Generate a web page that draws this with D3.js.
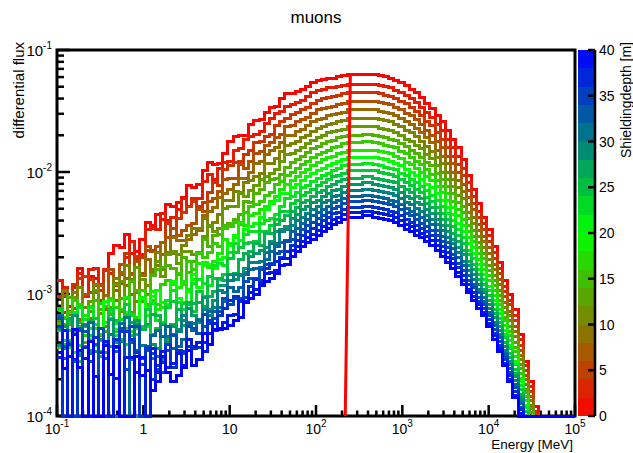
<!DOCTYPE html>
<html>
<head>
<meta charset="utf-8">
<title>muons</title>
<script src="https://cdn.jsdelivr.net/npm/d3@7"></script>
<style>
  body { margin: 0; background: #fff; }
  svg { display: block; }
  text { font-family: "Liberation Sans", Arial, sans-serif; fill: #000; }
</style>
</head>
<body>
<svg id="chart" width="633" height="453"></svg>
<script>
// histogram binning: log10(E / MeV) from -1 to 5
const binLow = -1, binHigh = 5, nBins = 100;

// shielding depth of each curve [m]
const depths = [0, 2, 4, 6, 8, 10, 12, 14, 16, 18, 20, 22, 24, 26, 28, 30, 32, 34, 36, 38, 40];

// differential flux per bin as 100*log10(flux), null = empty bin
const flux00 = [-313,-302,-310,-294,-279,-301,-286,-287,-292,-281,-267,-260,-262,-251,-267,-265,-255,-241,-244,-235,-239,-227,-228,-225,-221,-211,-213,-210,-199,-192,-194,-193,-185,-175,-171,-170,-170,-161,-158,-157,-151,-147,-146,-140,-136,
  -136,-134,-132,-130,-127,-125,-124,-123,-123,-122,-121,-120,-120,-120,-120,-120,-120,-121,-122,-123,-125,-127,-129,-132,-135,-139,-144,-148,-154,-159,-166,-173,-180,-190,-203,-214,-226,-237,-247,-261,-274,-289,-300,-313,-333,-355,-372,-392];
const flux02 = [-289,-295,-314,-295,-283,-302,-280,-279,-297,-280,-283,-293,-291,-270,-257,-272,-268,-247,-246,-247,-234,-240,-237,-231,-222,-228,-222,-222,-208,-202,-206,-197,-192,-191,-182,-181,-173,-171,-169,-167,-160,-156,-152,-150,-146,
  -145,-143,-141,-138,-135,-133,-132,-131,-131,-130,-129,-128,-128,-128,-128,-128,-128,-129,-130,-131,-133,-135,-137,-140,-143,-147,-151,-155,-161,-166,-173,-180,-187,-197,-209,-220,-232,-242,-252,-266,-279,-294,-305,-318,-337,-359,-376,-396];
const flux04 = [-302,-315,-320,-292,-287,-286,-288,-293,-305,-281,-305,-291,-284,-267,-283,-269,-270,-264,-264,-261,-258,-242,-253,-238,-233,-228,-224,-228,-225,-217,-209,-211,-198,-195,-192,-191,-186,-182,-176,-175,-171,-169,-162,-159,-156,
  -153,-151,-149,-147,-144,-141,-140,-139,-138,-137,-136,-135,-135,-135,-135,-135,-135,-136,-137,-138,-140,-142,-144,-147,-150,-154,-159,-162,-168,-173,-180,-187,-194,-203,-215,-226,-237,-247,-257,-271,-283,-298,-309,-322,-342,-363,-380,-399];
const flux06 = [-319,-298,-317,-312,-321,-300,-299,-305,-293,-313,-280,-297,-276,-287,-284,-273,-283,-261,-265,-261,-268,-254,-246,-252,-248,-244,-242,-231,-232,-224,-222,-216,-206,-205,-205,-194,-197,-191,-185,-183,-178,-176,-172,-169,-163,
  -162,-159,-157,-155,-152,-149,-148,-147,-146,-145,-144,-142,-142,-142,-142,-142,-142,-143,-144,-145,-147,-149,-152,-154,-157,-161,-166,-170,-175,-180,-187,-193,-200,-210,-221,-231,-243,-253,-262,-276,-288,-302,-314,-327,-346,-367,-384];
const flux08 = [-322,-301,-314,-299,-322,-321,-320,-299,-308,-301,-315,-305,-282,-293,-300,-299,-285,-272,-282,-277,-258,-266,-254,-256,-256,-255,-251,-248,-236,-232,-229,-221,-218,-214,-210,-205,-205,-200,-193,-191,-186,-182,-180,-176,-170,
  -170,-167,-165,-162,-159,-157,-156,-154,-153,-152,-151,-149,-149,-149,-149,-149,-149,-150,-151,-152,-154,-156,-159,-161,-164,-168,-172,-176,-182,-187,-193,-200,-207,-216,-227,-237,-248,-257,-267,-280,-292,-307,-318,-331,-350,-370,-387];
const flux10 = [-327,-297,-317,-299,-295,-311,-314,-292,-316,-327,-311,-287,-314,-277,-288,-306,-288,-293,-280,-266,-280,-267,-267,-268,-260,-252,-246,-246,-238,-245,-241,-235,-223,-223,-216,-217,-209,-207,-204,-201,-193,-193,-189,-183,-178,
  -177,-175,-172,-170,-167,-164,-163,-161,-160,-159,-158,-156,-156,-156,-156,-156,-156,-157,-158,-159,-161,-163,-166,-168,-171,-175,-179,-183,-188,-193,-200,-206,-213,-222,-233,-242,-253,-262,-272,-285,-297,-311,-322,-335,-354,-374,-391];
const flux12 = [-321,-325,-325,-303,-323,-327,-306,-297,-313,-331,-320,-292,-290,-304,-315,-278,-288,-300,-284,-273,-286,-268,-265,-275,-265,-265,-268,-266,-253,-244,-249,-246,-230,-228,-228,-218,-220,-215,-211,-206,-204,-201,-198,-191,-186,
  -185,-182,-180,-177,-174,-172,-170,-168,-167,-166,-165,-163,-163,-163,-163,-163,-163,-164,-165,-166,-168,-170,-173,-175,-178,-181,-186,-189,-195,-200,-206,-212,-219,-228,-238,-248,-258,-267,-277,-289,-301,-315,-327,-340,-358,-378,-394];
const flux14 = [-324,-320,-303,-331,-327,-340,-310,-305,-334,-310,-317,-331,-304,-318,-290,-297,-306,-309,-285,-280,-278,-277,-279,-284,-270,-282,-273,-267,-255,-261,-252,-251,-244,-242,-239,-235,-224,-225,-218,-214,-209,-206,-205,-202,-196,
  -192,-190,-187,-184,-181,-179,-177,-175,-174,-172,-171,-170,-170,-170,-169,-169,-170,-171,-172,-173,-174,-177,-179,-182,-185,-188,-192,-195,-201,-206,-212,-218,-225,-233,-244,-253,-262,-271,-281,-293,-305,-319,-331,-344,-361,-381,-397];
const flux16 = [-344,-319,-315,-305,-309,-334,-339,-325,-308,-340,-304,-311,-313,-328,-317,-319,-297,-310,-305,-309,-292,-289,-292,-283,-292,-273,-280,-267,-270,-266,-259,-261,-246,-245,-241,-243,-233,-228,-227,-224,-219,-217,-210,-208,-203,
  -200,-197,-194,-191,-188,-186,-184,-182,-180,-179,-177,-176,-176,-176,-175,-175,-176,-177,-178,-179,-180,-183,-185,-188,-191,-194,-198,-202,-207,-212,-218,-224,-231,-239,-249,-257,-267,-276,-285,-297,-309,-322,-334,-347,-365,-384,-401];
const flux18 = [-313,-338,-338,-333,-342,-318,-337,-325,-333,-323,-305,-324,null,-303,-331,-324,-303,-311,-298,-313,-311,-309,-292,-295,-290,-296,-288,-275,-277,-278,-273,-267,-255,-259,-254,-241,-244,-236,-234,-231,-228,-224,-220,-214,-210,
  -207,-204,-200,-198,-195,-192,-190,-188,-187,-185,-184,-182,-182,-182,-182,-182,-182,-183,-184,-185,-187,-189,-192,-194,-197,-200,-204,-207,-212,-217,-223,-229,-236,-244,-254,-262,-272,-280,-289,-301,-313,-326,-338,-351,-369,-387];
const flux20 = [-312,-327,-344,-348,-349,null,-328,-328,-328,-306,-320,-329,-328,-315,-334,-333,-304,-318,-302,-297,-307,-309,-290,-304,-307,-298,-284,-295,-274,-276,-279,-272,-270,-260,-252,-256,-247,-245,-242,-237,-231,-226,-223,-218,-218,
  -213,-210,-207,-204,-201,-199,-197,-195,-193,-191,-190,-188,-188,-188,-188,-188,-188,-189,-190,-191,-193,-195,-198,-200,-203,-206,-210,-213,-218,-223,-229,-235,-242,-249,-259,-267,-276,-284,-294,-305,-316,-330,-342,-355,-372,-391];
const flux22 = [-330,-341,-330,-315,-311,-321,-311,-342,-347,-341,-314,-334,-321,-341,-318,-328,-328,-327,-308,-322,-323,-305,-297,-307,-313,-307,-291,-288,-291,-293,-277,-275,-277,-266,-259,-262,-251,-249,-249,-242,-240,-238,-235,-228,-222,
  -220,-217,-213,-211,-208,-205,-203,-201,-199,-197,-195,-194,-194,-194,-193,-193,-194,-195,-196,-197,-198,-201,-203,-206,-209,-212,-215,-219,-223,-228,-234,-240,-247,-254,-264,-271,-280,-288,-297,-309,-320,-333,-345,-358,-375,-393];
const flux24 = [-312,-343,-323,-333,-355,null,-334,-320,-351,null,-313,-322,-337,-309,-334,-333,-327,-313,-333,-328,-335,-311,-306,-321,-308,-309,-314,-298,-302,-286,-287,-288,-284,-271,-266,-262,-259,-258,-257,-249,-249,-244,-239,-232,-232,
  -226,-223,-219,-217,-214,-211,-209,-206,-204,-203,-201,-199,-199,-199,-199,-199,-199,-200,-201,-202,-204,-206,-209,-211,-214,-217,-221,-224,-229,-234,-239,-245,-252,-259,-268,-276,-284,-292,-301,-313,-323,-336,-349,-362,-378,-396];
const flux26 = [-329,null,-321,null,-348,-343,-322,null,-338,-348,-343,null,null,null,-323,null,-329,-325,-317,-318,-335,-337,-325,-313,-326,-307,-308,-307,-310,-302,-298,-287,-289,-284,-283,-272,-267,-265,-259,-260,-250,-250,-243,-240,-236,
  -232,-229,-225,-223,-220,-217,-215,-212,-210,-208,-206,-205,-205,-205,-204,-204,-205,-206,-207,-208,-209,-212,-214,-217,-220,-222,-226,-229,-234,-239,-244,-250,-257,-264,-273,-280,-288,-296,-305,-316,-327,-340,-352,-365,-382,-400];
const flux28 = [-342,-327,null,-318,-350,-325,-346,-347,-337,null,-321,-340,-339,null,-337,-322,null,null,-341,-345,-325,-340,-327,-329,-322,-312,-318,-323,-303,-313,-305,-293,-293,-284,-288,-284,-279,-269,-267,-264,-262,-257,-249,-247,-245,
  -238,-235,-231,-228,-225,-223,-220,-218,-215,-214,-212,-210,-210,-210,-209,-209,-210,-211,-212,-213,-214,-217,-220,-222,-225,-227,-231,-234,-239,-244,-249,-255,-262,-268,-277,-284,-292,-299,-309,-319,-330,-343,-355,-368,-385,-402];
const flux30 = [-328,-345,-340,null,null,-326,-349,null,null,null,-333,null,null,-319,-354,-325,-342,null,-353,-351,-354,-335,-333,-331,-318,-323,-324,-321,-313,-318,-311,-297,-299,-289,-284,-285,-282,-274,-274,-273,-266,-259,-259,-249,-247,
  -244,-240,-237,-234,-231,-228,-225,-223,-220,-219,-217,-215,-215,-215,-214,-214,-215,-216,-217,-218,-219,-222,-225,-227,-230,-232,-236,-239,-243,-248,-254,-259,-266,-273,-281,-288,-296,-303,-312,-323,-333,-346,-358,-371,-387,-404];
const flux32 = [-318,-353,null,-355,-328,null,-323,-341,null,-353,null,-347,-324,null,-340,-346,-353,-346,-334,-330,-335,-327,-345,-343,-337,-324,-330,-322,-327,-314,-314,-311,-306,-295,-298,-295,-284,-280,-279,-278,-272,-265,-261,-258,-256,
  -249,-246,-242,-239,-236,-233,-231,-228,-225,-223,-222,-220,-220,-220,-219,-219,-220,-221,-222,-223,-224,-227,-230,-232,-235,-237,-240,-243,-248,-253,-258,-263,-270,-277,-285,-292,-299,-306,-315,-326,-336,-349,-361,-374,-390];
const flux34 = [-320,-343,null,null,-330,-331,-355,null,-328,-339,null,-344,-328,-362,-327,-327,-358,-343,-349,-362,-364,-346,-334,-349,-349,-327,-328,-332,-317,-324,-320,-314,-304,-309,-304,-304,-290,-287,-287,-280,-276,-275,-267,-265,-257,
  -255,-251,-247,-244,-241,-238,-236,-233,-230,-228,-226,-224,-224,-224,-223,-223,-224,-225,-226,-227,-228,-231,-234,-236,-239,-242,-245,-248,-252,-257,-262,-268,-275,-281,-289,-295,-303,-309,-318,-329,-339,-351,-364,-377,-393];
const flux36 = [-327,null,-341,-354,null,-344,null,-336,-348,null,null,-337,-331,-331,-337,-348,null,-345,-370,-359,-356,-341,-360,-346,-347,-343,-345,-344,-340,-322,-330,-318,-312,-305,-302,-306,-303,-294,-288,-289,-279,-276,-273,-270,-265,
  -260,-256,-252,-249,-246,-243,-240,-237,-234,-233,-231,-229,-229,-229,-228,-228,-229,-230,-231,-232,-233,-236,-239,-241,-244,-246,-249,-252,-256,-261,-266,-271,-278,-285,-292,-299,-306,-312,-321,-332,-342,-354,-367,-380,-395];
const flux38 = [-352,-330,null,-333,-346,-353,null,-368,null,-339,null,-369,null,-352,-352,-364,-352,null,-345,-364,-347,-360,-357,-349,-359,-337,-343,-340,-347,-332,-324,-328,-323,-318,-317,-305,-306,-299,-296,-291,-283,-282,-281,-271,-271,
  -264,-261,-257,-254,-251,-248,-245,-242,-239,-237,-235,-233,-233,-233,-232,-232,-233,-234,-235,-236,-237,-240,-243,-245,-248,-250,-253,-256,-260,-265,-270,-275,-282,-289,-296,-302,-309,-315,-324,-334,-345,-357,-370,-383,-398];
const flux40 = [-348,-361,-351,-329,-360,null,-339,null,null,-342,-366,-343,null,null,null,-351,-367,-363,-379,-372,-351,-364,-372,-367,-360,-346,-359,-354,-332,-341,-329,-329,-328,-326,-322,-319,-307,-304,-300,-293,-290,-287,-283,-277,-276,
  -269,-265,-261,-258,-255,-252,-249,-246,-243,-241,-239,-237,-237,-237,-236,-236,-237,-238,-239,-240,-241,-244,-247,-249,-252,-254,-257,-260,-264,-269,-274,-279,-286,-292,-299,-305,-312,-318,-327,-337,-347,-359,-372,-385,-400];

const fluxes = [flux00, flux02, flux04, flux06, flux08, flux10, flux12, flux14, flux16, flux18,
                flux20, flux22, flux24, flux26, flux28, flux30, flux32, flux34, flux36, flux38, flux40];

// red marker line (energy [MeV], flux) at both ends
const markerEnergy = [218, 250];
const markerFlux = [1e-4, 0.063];

// axis ticks and labels: [mantissa, exponent]
const xTickValues = [1e-1, 1, 10, 1e2, 1e3, 1e4, 1e5];
const xTickLabels = [["10", "-1"], ["1", ""], ["10", ""], ["10", "2"], ["10", "3"], ["10", "4"], ["10", "5"]];
const yTickValues = [1e-4, 1e-3, 1e-2, 1e-1];
const yTickLabels = [["10", "-4"], ["10", "-3"], ["10", "-2"], ["10", "-1"]];
const zTickValues = [0, 5, 10, 15, 20, 25, 30, 35, 40];

const svg = d3.select("#chart");
const frame = { left: 57, right: 575, top: 50, bottom: 416 };

const x = d3.scaleLog().domain([1e-1, 1e5]).range([frame.left, frame.right]);
const y = d3.scaleLog().domain([1e-4, 1e-1]).range([frame.bottom, frame.top]).clamp(true);
const z = d3.scaleLinear().domain([0, 40]).range([frame.bottom, frame.top]);
const depthColor = d3.scaleLinear().domain([0, 20, 40]).range(["#ff0000", "#00ff00", "#0000ff"]);

// title
svg.append("text")
   .attr("x", 316).attr("y", 23)
   .attr("text-anchor", "middle")
   .style("font-size", "17px")
   .text("muons");

// frame box
svg.append("rect")
   .attr("x", frame.left).attr("y", frame.top)
   .attr("width", frame.right - frame.left).attr("height", frame.bottom - frame.top)
   .attr("fill", "none").attr("stroke", "#000").attr("stroke-width", 3);

// ticks, drawn below the histograms like ROOT does
const ticks = svg.append("g").attr("stroke", "#000").attr("stroke-width", 2.5);
const xMinor = xTickValues.slice(0, -1).flatMap(v => d3.range(2, 10).map(m => m * v));
const yMinor = yTickValues.slice(0, -1).flatMap(v => d3.range(2, 10).map(m => m * v));

ticks.selectAll(".xmaj").data(xTickValues).enter().append("line")
   .attr("x1", d => x(d)).attr("x2", d => x(d))
   .attr("y1", frame.bottom).attr("y2", frame.bottom - 11);
ticks.selectAll(".xmin").data(xMinor).enter().append("line")
   .attr("x1", d => x(d)).attr("x2", d => x(d))
   .attr("y1", frame.bottom).attr("y2", frame.bottom - 5.5);
ticks.selectAll(".ymaj").data(yTickValues).enter().append("line")
   .attr("x1", frame.left).attr("x2", frame.left + 13)
   .attr("y1", d => y(d)).attr("y2", d => y(d));
ticks.selectAll(".ymin").data(yMinor).enter().append("line")
   .attr("x1", frame.left).attr("x2", frame.left + 7)
   .attr("y1", d => y(d)).attr("y2", d => y(d));

// tick labels with superscript exponents
function powerLabel(sel, lab) {
    sel.append("tspan").text(lab[0]);
    if (lab[1]) sel.append("tspan").attr("dy", -7).style("font-size", "10px").text(lab[1]);
}
xTickValues.forEach((v, i) => {
    const t = svg.append("text")
       .attr("x", x(v)).attr("y", 434)
       .attr("text-anchor", "middle")
       .style("font-size", "14px");
    powerLabel(t, xTickLabels[i]);
});
yTickValues.forEach((v, i) => {
    const t = svg.append("text")
       .attr("x", 52).attr("y", y(v) + 6)
       .attr("text-anchor", "end")
       .style("font-size", "15px");
    powerLabel(t, yTickLabels[i]);
});

// axis titles
svg.append("text")
   .attr("x", 573).attr("y", 449)
   .attr("text-anchor", "end")
   .style("font-size", "13.5px")
   .text("Energy [MeV]");
svg.append("text")
   .attr("transform", "translate(24,42) rotate(-90)")
   .attr("text-anchor", "end")
   .style("font-size", "15px")
   .text("differential flux");

// histograms, one step line per shielding depth
svg.append("clipPath").attr("id", "plotclip")
   .append("rect")
   .attr("x", frame.left).attr("y", frame.top - 2)
   .attr("width", frame.right - frame.left + 2).attr("height", frame.bottom - frame.top + 4);

const edges = d3.range(nBins + 1).map(j => Math.pow(10, binLow + j * (binHigh - binLow) / nBins));
const stepLine = d3.line();
const hists = svg.append("g").attr("clip-path", "url(#plotclip)");

fluxes.forEach((vals, k) => {
    const pts = [];
    vals.forEach((v, i) => {
        const yy = v == null ? frame.bottom : y(Math.pow(10, v / 100));
        pts.push([x(edges[i]), yy], [x(edges[i + 1]), yy]);
    });
    pts.push([x(edges[vals.length]), frame.bottom], [x(1e5), frame.bottom]);
    hists.append("path")
       .attr("d", stepLine(pts))
       .attr("fill", "none")
       .attr("stroke", depthColor(depths[k]))
       .attr("stroke-width", 3)
       .attr("shape-rendering", "crispEdges");
});

// red marker line
svg.append("line")
   .attr("x1", x(markerEnergy[0])).attr("y1", y(markerFlux[0]))
   .attr("x2", x(markerEnergy[1])).attr("y2", y(markerFlux[1]))
   .attr("stroke", "#ff0000").attr("stroke-width", 3);

// colour palette axis
const barX = 578, barW = 17;
const bands = d3.range(0, 40, 2);
svg.selectAll(".band").data(bands).enter().append("rect")
   .attr("x", barX).attr("width", barW)
   .attr("y", d => z(d + 2)).attr("height", d => z(d) - z(d + 2))
   .attr("fill", d => depthColor(d + 1))
   .attr("shape-rendering", "crispEdges");
svg.append("line")
   .attr("x1", barX + barW).attr("x2", barX + barW)
   .attr("y1", frame.top).attr("y2", frame.bottom)
   .attr("stroke", "#000").attr("stroke-width", 2.5);
svg.selectAll(".ztick").data(zTickValues).enter().append("line")
   .attr("x1", barX + barW - 7).attr("x2", barX + barW)
   .attr("y1", d => z(d)).attr("y2", d => z(d))
   .attr("stroke", "#000").attr("stroke-width", 2.5);
svg.selectAll(".zlab").data(zTickValues).enter().append("text")
   .attr("x", barX + barW + 4).attr("y", d => z(d) + 5)
   .style("font-size", "14px")
   .text(d => d);
svg.append("text")
   .attr("transform", "translate(631,42) rotate(-90)")
   .attr("text-anchor", "end")
   .style("font-size", "14px")
   .text("Shieldingdepth [m]");
</script>
</body>
</html>
